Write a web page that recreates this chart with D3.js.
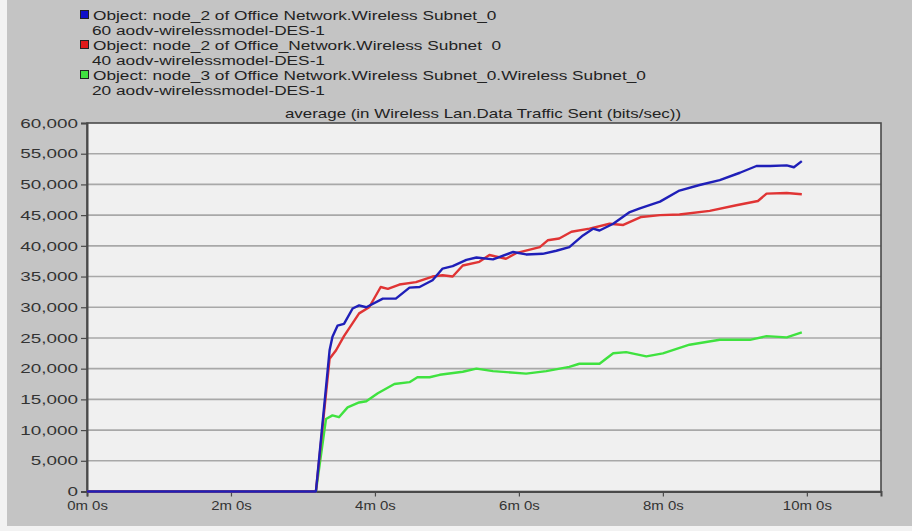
<!DOCTYPE html>
<html>
<head>
<meta charset="utf-8">
<script src="https://cdn.jsdelivr.net/npm/d3@7"></script>
<style>
  html, body { margin: 0; padding: 0; background: #f4f4f4; }
  svg { display: block; font-family: "Liberation Sans", Arial, sans-serif; }
  text { white-space: pre; }
</style>
</head>
<body>
<svg id="chart" width="912" height="531"></svg>
<script>
// ---- data (time in minutes, value in bits/sec) ----
const legendLines = [
  "Object: node_2 of Office Network.Wireless Subnet_0",
  "60 aodv-wirelessmodel-DES-1",
  "Object: node_2 of Office_Network.Wireless Subnet  0",
  "40 aodv-wirelessmodel-DES-1",
  "Object: node_3 of Office Network.Wireless Subnet_0.Wireless Subnet_0",
  "20 aodv-wirelessmodel-DES-1"
];
const chartTitle = "average (in Wireless Lan.Data Traffic Sent (bits/sec))";
const yTicks = [0, 5000, 10000, 15000, 20000, 25000, 30000, 35000, 40000, 45000, 50000, 55000, 60000];
const xTicks = [0, 2, 4, 6, 8, 10];
const xTickLabels = ["0m 0s", "2m 0s", "4m 0s", "6m 0s", "8m 0s", "10m 0s"];

const blueT = [0, 3.18, 3.37, 3.41, 3.48, 3.57, 3.69, 3.78, 3.88, 4.11, 4.29, 4.48, 4.62, 4.80, 4.94, 5.08, 5.27, 5.41, 5.64, 5.92, 6.10, 6.33, 6.52, 6.70, 6.89, 7.03, 7.12, 7.31, 7.54, 7.68, 7.96, 8.23, 8.51, 8.79, 9.07, 9.30, 9.49, 9.72, 9.82, 9.93];
const blueV = [0, 0, 23000, 25200, 27000, 27300, 29800, 30300, 30000, 31400, 31400, 33200, 33300, 34400, 36300, 36700, 37700, 38100, 37800, 39000, 38600, 38700, 39200, 39800, 41700, 42800, 42500, 43600, 45500, 46100, 47200, 49000, 49900, 50700, 51900, 53000, 53000, 53100, 52800, 53800];

const redT = [0, 3.18, 3.37, 3.46, 3.57, 3.78, 3.92, 4.08, 4.18, 4.34, 4.57, 4.80, 4.94, 5.08, 5.22, 5.45, 5.59, 5.82, 5.96, 6.29, 6.40, 6.56, 6.73, 6.98, 7.26, 7.45, 7.70, 7.96, 8.23, 8.65, 9.02, 9.32, 9.44, 9.72, 9.93];
const redV = [0, 0, 21600, 23000, 25300, 29000, 30000, 33300, 33000, 33700, 34100, 35000, 35200, 35000, 36800, 37400, 38500, 37900, 38800, 39800, 40900, 41200, 42300, 42800, 43600, 43400, 44700, 45000, 45100, 45700, 46600, 47300, 48500, 48600, 48400];

const greenT = [0, 3.18, 3.32, 3.41, 3.50, 3.62, 3.78, 3.88, 4.04, 4.27, 4.48, 4.59, 4.76, 4.90, 5.22, 5.41, 5.64, 6.10, 6.38, 6.70, 6.84, 7.12, 7.31, 7.49, 7.77, 8.00, 8.37, 8.79, 9.21, 9.44, 9.72, 9.93];
const greenV = [0, 0, 11800, 12400, 12100, 13700, 14500, 14700, 16000, 17500, 17800, 18600, 18600, 19000, 19500, 20000, 19600, 19200, 19600, 20300, 20800, 20800, 22500, 22700, 22000, 22500, 23900, 24700, 24700, 25300, 25100, 25900];

const seriesColors = ["#1f1fb8", "#e03434", "#3fe23f"];
const swatchColors = ["#1010c8", "#e01818", "#40e040"];

// ---- drawing ----
const svg = d3.select("#chart");

// widen text horizontally (reference glyphs are stretched)
function stretch(sel, factor) {
  sel.each(function () {
    const w = this.getComputedTextLength();
    d3.select(this).attr("textLength", w * factor).attr("lengthAdjust", "spacingAndGlyphs");
  });
}

// outer panel
svg.append("rect").attr("x", 0).attr("y", 0).attr("width", 912).attr("height", 531).attr("fill", "#f2f2f2");
svg.append("rect").attr("x", 7).attr("y", 0).attr("width", 905).attr("height", 526).attr("fill", "#c4c4c4");

const plot = { left: 87, top: 123, right: 881, bottom: 491.5 };

const x = d3.scaleLinear().domain([0, 11.03]).range([plot.left, plot.right]);
const y = d3.scaleLinear().domain([0, 60000]).range([plot.bottom, plot.top]);

// plot background
svg.append("rect")
  .attr("x", plot.left).attr("y", plot.top)
  .attr("width", plot.right - plot.left).attr("height", plot.bottom - plot.top)
  .attr("fill", "#f0f0f0");

// gridlines
svg.append("g").selectAll("line").data(yTicks.filter(d => d > 0 && d < 60000)).join("line")
  .attr("x1", plot.left).attr("x2", plot.right)
  .attr("y1", d => y(d)).attr("y2", d => y(d))
  .attr("stroke", "#a8a8a8").attr("stroke-width", 1.6);

// frame (top/right)
svg.append("rect")
  .attr("x", plot.left).attr("y", plot.top)
  .attr("width", plot.right - plot.left).attr("height", plot.bottom - plot.top)
  .attr("fill", "none").attr("stroke", "#4a4a4a").attr("stroke-width", 1.6);

// axes
const fmt = d3.format(",");
const yAxis = d3.axisLeft(y).tickValues(yTicks).tickFormat(d => fmt(d)).tickSize(6).tickPadding(3);
const gy = svg.append("g").attr("transform", `translate(${plot.left},0)`).call(yAxis);
gy.select(".domain").attr("stroke", "#4a4a4a").attr("stroke-width", 2);
gy.selectAll(".tick line").attr("stroke", "#4a4a4a").attr("stroke-width", 1.2);
gy.selectAll(".tick text").attr("fill", "#333").style("font-size", "13px").style("font-family", "Liberation Sans, Arial, sans-serif");
stretch(gy.selectAll(".tick text"), 1.45);

const xAxis = d3.axisBottom(x).tickValues(xTicks).tickFormat((d, i) => xTickLabels[i]).tickSize(5).tickPadding(4);
const gx = svg.append("g").attr("transform", `translate(0,${plot.bottom})`).call(xAxis);
gx.select(".domain").attr("stroke", "#4a4a4a").attr("stroke-width", 2);
gx.selectAll(".tick line").attr("stroke", "#4a4a4a").attr("stroke-width", 1.2);
gx.selectAll(".tick text").attr("fill", "#333").style("font-size", "13px").style("font-family", "Liberation Sans, Arial, sans-serif");
stretch(gx.selectAll(".tick text"), 1.15);

// title
const title = svg.append("text").attr("x", 483).attr("y", 118).attr("text-anchor", "middle")
  .attr("fill", "#222").style("font-size", "13px").text(chartTitle);
stretch(title, 1.3);

// lines (green, red, blue on top)
const line = d3.line().x(d => x(d[0])).y(d => y(d[1]));
const series = [
  { t: greenT, v: greenV, c: seriesColors[2] },
  { t: redT, v: redV, c: seriesColors[1] },
  { t: blueT, v: blueV, c: seriesColors[0] }
];
series.forEach(s => {
  svg.append("path")
    .datum(s.t.map((t, i) => [t, s.v[i]]))
    .attr("d", line)
    .attr("fill", "none")
    .attr("stroke", s.c)
    .attr("stroke-width", 2.4)
    .attr("stroke-linejoin", "round");
});

// legend
const legend = svg.append("g");
legendLines.forEach((txt, i) => {
  const yy = 20 + i * 15;
  if (i % 2 === 0) {
    legend.append("rect")
      .attr("x", 80.5).attr("y", yy - 9.5).attr("width", 8).attr("height", 8)
      .attr("fill", swatchColors[i / 2]).attr("stroke", "#222").attr("stroke-width", 1);
  }
  const t = legend.append("text")
    .attr("x", i % 2 === 0 ? 93 : 92).attr("y", yy)
    .attr("fill", "#222").style("font-size", "12.5px").text(txt);
  stretch(t, 1.38);
});
</script>
</body>
</html>
